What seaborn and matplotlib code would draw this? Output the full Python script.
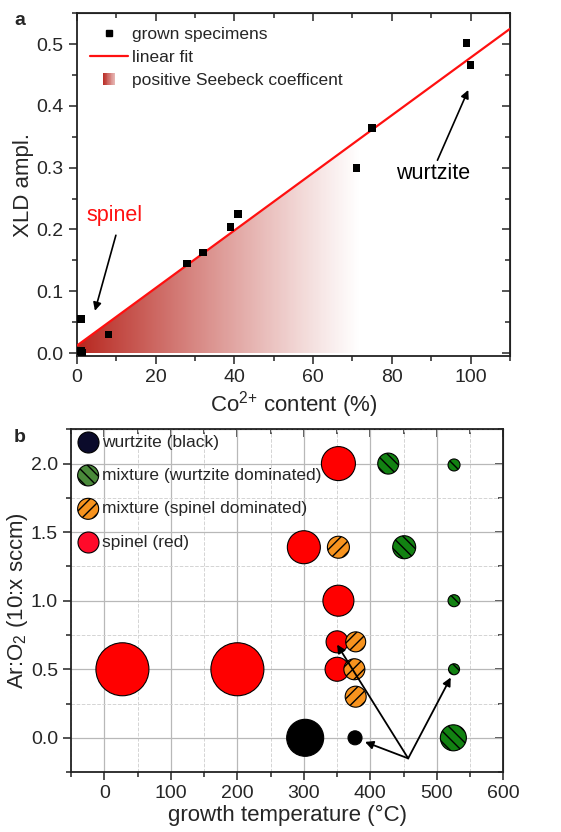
import numpy as np
import pandas as pd
import matplotlib
matplotlib.use("Agg")
import matplotlib.pyplot as plt
import seaborn as sns
from matplotlib.lines import Line2D
from matplotlib.patches import Polygon, Rectangle
from matplotlib.legend_handler import HandlerBase
from matplotlib.ticker import MultipleLocator

sns.set_style("ticks")
plt.rcParams['font.family'] = ['Liberation Sans', 'DejaVu Sans']
plt.rcParams['mathtext.fontset'] = 'custom'
plt.rcParams['mathtext.rm'] = 'Liberation Sans'
plt.rcParams['mathtext.it'] = 'Liberation Sans:italic'
plt.rcParams['hatch.linewidth'] = 1.0
plt.rcParams['axes.edgecolor'] = '#222222'

# ---- panel a data: XLD amplitude vs Co2+ content
co_content = [1, 1, 1.3, 8, 28, 32, 39, 41, 71, 75, 99, 100]
xld_ampl = [0.055, 0.003, 0.0, 0.03, 0.145, 0.163, 0.204, 0.225, 0.30, 0.364, 0.502, 0.466]
seebeck_limit = 72  # Co content up to which Seebeck coefficient is positive

# ---- panel b data: growth conditions per phase
wurtzite_temp = [302, 377]
wurtzite_ratio = [0.0, 0.0]
wurtzite_size = [37, 14]

mix_w_temp = [427, 526, 451, 526, 526, 525]
mix_w_ratio = [2.0, 1.99, 1.39, 1.0, 0.5, 0.0]
mix_w_size = [21, 12, 23, 12, 11, 26]

mix_s_temp = [352, 378, 376, 378]
mix_s_ratio = [1.39, 0.7, 0.5, 0.3]
mix_s_size = [22, 20, 21, 21]

spinel_temp = [27, 200, 352, 300, 352, 350, 350]
spinel_ratio = [0.5, 0.5, 2.0, 1.39, 1.0, 0.7, 0.5]
spinel_size = [53, 53, 34, 33, 31, 22, 24]

phase_labels = ["wurtzite (black)", "mixture (wurtzite dominated)",
                "mixture (spinel dominated)", "spinel (red)"]

fig = plt.figure(figsize=(5.61, 8.32), dpi=100)
ax_a = fig.add_axes([0.137, 0.572, 0.772, 0.412])
ax_b = fig.add_axes([0.127, 0.072, 0.770, 0.412])


def style_ticks(ax, xmaj, xmin, ymaj, ymin):
    ax.xaxis.set_major_locator(MultipleLocator(xmaj))
    ax.xaxis.set_minor_locator(MultipleLocator(xmin))
    ax.yaxis.set_major_locator(MultipleLocator(ymaj))
    ax.yaxis.set_minor_locator(MultipleLocator(ymin))
    ax.tick_params(which='both', direction='out', width=1.1, labelsize=14,
                   color='#222222')
    ax.tick_params(which='major', length=6)
    ax.tick_params(which='minor', length=3.5)
    for s in ax.spines.values():
        s.set_linewidth(1.3)
    top = ax.secondary_xaxis('top')
    top.xaxis.set_major_locator(MultipleLocator(xmaj))
    top.xaxis.set_minor_locator(MultipleLocator(xmin))
    top.tick_params(which='both', direction='in', labeltop=False, width=1.1)
    top.tick_params(which='major', length=6)
    top.tick_params(which='minor', length=3.5)
    right = ax.secondary_yaxis('right')
    right.yaxis.set_major_locator(MultipleLocator(ymaj))
    right.yaxis.set_minor_locator(MultipleLocator(ymin))
    right.tick_params(which='both', direction='in', labelright=False, width=1.1)
    right.tick_params(which='major', length=6)
    right.tick_params(which='minor', length=3.5)


# ================= panel a =================
base_red = np.array([0.72, 0.15, 0.12])
slope, intercept = np.polyfit(co_content, xld_ampl, 1)
xfit = np.array([0, 110])
fit_df = pd.DataFrame({"x": xfit, "y": intercept + slope * xfit})

# gradient region under the fit line
grad = np.ones((2, 256, 4))
grad[..., :3] = base_red
grad[..., 3] = np.linspace(1, 0, 256) ** 1.1
ytop = intercept + slope * seebeck_limit
im = ax_a.imshow(grad, extent=[0, seebeck_limit, 0, ytop], aspect='auto',
                 origin='lower', zorder=1, interpolation='bilinear')
clip = Polygon([(0, 0), (0, intercept), (seebeck_limit, ytop), (seebeck_limit, 0)],
               closed=True, transform=ax_a.transData, facecolor='none', edgecolor='none')
ax_a.add_patch(clip)
im.set_clip_path(clip)

sns.lineplot(data=fit_df, x="x", y="y", ax=ax_a, color='#ff1010', lw=1.6, zorder=3)
pts = pd.DataFrame({"co": co_content, "xld": xld_ampl})
sns.scatterplot(data=pts, x="co", y="xld", ax=ax_a, marker='s', color='black',
                s=30, edgecolor='none', zorder=4)

ax_a.set_xlim(0, 110)
ax_a.set_ylim(-0.005, 0.55)
style_ticks(ax_a, 20, 10, 0.1, 0.05)
ax_a.set_xlabel("Co$^{2{+}}$ content (%)", fontsize=16, labelpad=2)
ax_a.set_ylabel("XLD ampl.", fontsize=16, labelpad=2)

ax_a.text(2.5, 0.222, "spinel", color='#ff1010', fontsize=15.5, va='center')
ax_a.annotate('', xy=(4.4, 0.064), xytext=(10.1, 0.195),
              arrowprops=dict(arrowstyle='-|>', color='k', lw=1.2, mutation_scale=12))
ax_a.text(90.5, 0.29, "wurtzite", color='k', fontsize=15.5, ha='center', va='center')
ax_a.annotate('', xy=(99.7, 0.43), xytext=(91.3, 0.308),
              arrowprops=dict(arrowstyle='-|>', color='k', lw=1.2, mutation_scale=12))


class GradientHandler(HandlerBase):
    def create_artists(self, legend, orig_handle, xdescent, ydescent,
                       width, height, fontsize, trans):
        n = 16
        side = height * 1.05
        x0 = -xdescent + (width - side) / 2
        y0 = -ydescent + (height - side) / 2
        arts = []
        for i in range(n):
            r = Rectangle((x0 + i * side / n, y0), side / n, side,
                          facecolor=base_red, alpha=1 - 0.75 * i / n,
                          edgecolor='none', transform=trans)
            arts.append(r)
        return arts


grad_handle = Rectangle((0, 0), 1, 1)
leg_a = ax_a.legend(
    [Line2D([], [], marker='s', color='k', ls='none', markersize=5),
     Line2D([], [], color='#ff1010', lw=1.6),
     grad_handle],
    ["grown specimens", "linear fit", "positive Seebeck coefficent"],
    handler_map={Rectangle: GradientHandler()},
    loc='upper left', bbox_to_anchor=(0.03, 0.96), frameon=False,
    fontsize=12.5, handlelength=2.2, handletextpad=0.2, labelspacing=0.45,
    borderaxespad=0, borderpad=0)

# ================= panel b =================
ax_b.set_axisbelow(True)
ax_b.grid(which='major', color='#b8b8b8', lw=0.9, ls='-')
ax_b.grid(which='minor', color='#d4d4d4', lw=0.7, ls='--')

groups = [
    (wurtzite_temp, wurtzite_ratio, wurtzite_size, '#000000', None),
    (mix_w_temp, mix_w_ratio, mix_w_size, '#128212', '\\\\\\'),
    (mix_s_temp, mix_s_ratio, mix_s_size, '#f7931e', '///'),
    (spinel_temp, spinel_ratio, spinel_size, '#ff0000', None),
]
# draw spinel first so hatched neighbours overlap the way they do in the figure
for temp, ratio, size, col, hatch in [groups[3], groups[0], groups[2], groups[1]]:
    df = pd.DataFrame({"T": temp, "r": ratio})
    s = (np.array(size) * 0.72) ** 2
    kw = dict(hatch=hatch) if hatch else {}
    sns.scatterplot(data=df, x="T", y="r", ax=ax_b, s=s, color=col,
                    edgecolor='black', linewidth=0.8, zorder=3, **kw)

ax_b.set_xlim(-50, 600)
ax_b.set_ylim(-0.25, 2.25)
style_ticks(ax_b, 100, 50, 0.5, 0.25)
ax_b.set_xlabel("growth temperature (°C)", fontsize=16, labelpad=2)
ax_b.set_ylabel("Ar:O$_2$ (10:x sccm)", fontsize=16, labelpad=1)

tail = (457, -0.15)
for head in [(350, 0.68), (521, 0.44), (392, -0.03)]:
    ax_b.annotate('', xy=head, xytext=tail,
                  arrowprops=dict(arrowstyle='-|>', color='k', lw=1.3,
                                  mutation_scale=12, shrinkA=0, shrinkB=0))

leg_cols = ['#0b0b2b', '#4a8a3a', '#f7931e', '#ff0a2a']
leg_hatch = [None, '\\\\\\', '///', None]
handles = []
for c, h in zip(leg_cols, leg_hatch):
    kw = dict(hatch=h) if h else {}
    handles.append(ax_b.scatter([], [], s=(21 * 0.72) ** 2, color=c,
                                edgecolor='black', linewidth=0.8, **kw))
ax_b.legend(handles, phase_labels, loc='upper left', bbox_to_anchor=(0.015, 0.985),
            frameon=False, fontsize=12.5, handlelength=1.2, handletextpad=0.2,
            labelspacing=1.05, borderaxespad=0, borderpad=0, scatterpoints=1)

fig.text(0.025, 0.975, "a", fontsize=14, fontweight='bold', va='center')
fig.text(0.025, 0.474, "b", fontsize=14, fontweight='bold', va='center')

fig.savefig("out.png", dpi=100)
